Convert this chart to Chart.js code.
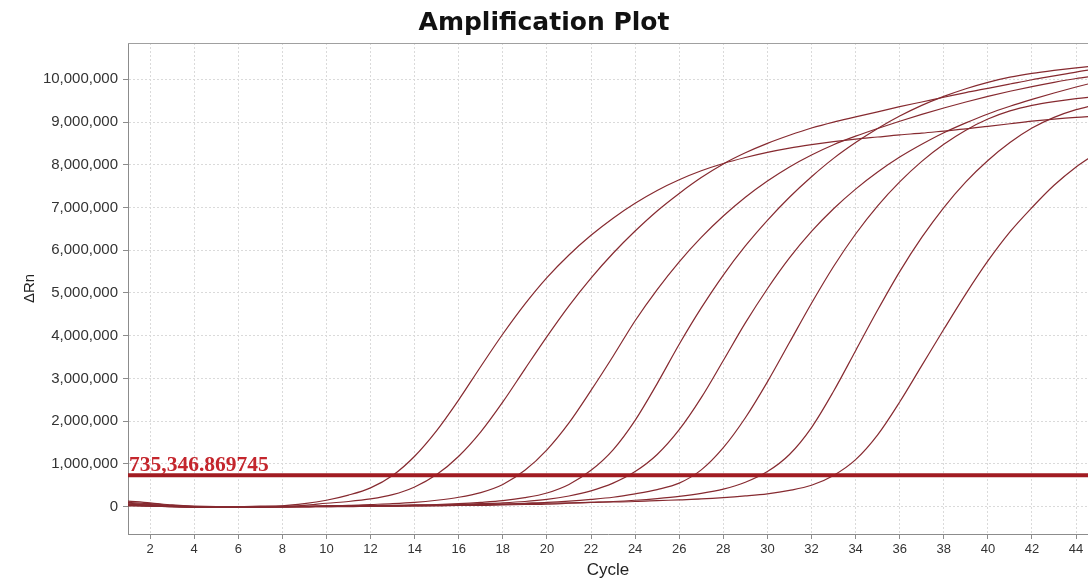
<!DOCTYPE html>
<html>
<head>
<meta charset="utf-8">
<title>Amplification Plot</title>
<script src="https://cdn.jsdelivr.net/npm/chart.js@4.4.1/dist/chart.umd.min.js"></script>
<style>
  html, body { margin: 0; padding: 0; background: #fff; overflow: hidden; }
</style>
</head>
<body>
<canvas id="ampChart" width="1088" height="583"></canvas>
<script>
// Cycle numbers and axis ticks
const cycles = [1, 2, 3, 4, 5, 6, 7, 8, 9, 10, 11, 12, 13, 14, 15, 16, 17, 18, 19, 20, 21, 22, 23,
  24, 25, 26, 27, 28, 29, 30, 31, 32, 33, 34, 35, 36, 37, 38, 39, 40, 41, 42, 43, 44, 45];
const xTicks = [2, 4, 6, 8, 10, 12, 14, 16, 18, 20, 22, 24, 26, 28, 30, 32, 34, 36, 38, 40, 42, 44];
const yTicks = [0, 1000000, 2000000, 3000000, 4000000, 5000000, 6000000, 7000000, 8000000, 9000000, 10000000];
const threshold = 735346.869745;

// Delta Rn per well, in millions
const well1 = [0.13, 0.09, 0.04, 0.01, 0.00, 0.00, 0.01, 0.02, 0.07, 0.15, 0.27, 0.44, 0.73, 1.18, 1.78,
  2.50, 3.28, 4.04, 4.74, 5.36, 5.89, 6.35, 6.75, 7.10, 7.40, 7.65, 7.86, 8.03, 8.17, 8.29,
  8.39, 8.47, 8.54, 8.60, 8.65, 8.70, 8.74, 8.79, 8.84, 8.90, 8.96, 9.02, 9.07, 9.11, 9.14];
const well2 = [0.10, 0.07, 0.03, 0.00, -0.01, 0.00, 0.00, 0.01, 0.03, 0.08, 0.12, 0.18, 0.28, 0.46, 0.75,
  1.18, 1.75, 2.45, 3.22, 3.98, 4.70, 5.35, 5.93, 6.45, 6.92, 7.33, 7.70, 8.02, 8.28, 8.50,
  8.69, 8.86, 9.00, 9.12, 9.24, 9.36, 9.47, 9.58, 9.69, 9.79, 9.89, 9.99, 10.08, 10.17, 10.25];
const well3 = [0.08, 0.05, 0.02, 0.00, -0.01, -0.01, 0.00, 0.00, 0.01, 0.02, 0.03, 0.05, 0.07, 0.10, 0.15,
  0.22, 0.33, 0.52, 0.85, 1.33, 1.96, 2.72, 3.52, 4.35, 5.08, 5.73, 6.30, 6.80, 7.24, 7.62,
  7.95, 8.23, 8.47, 8.67, 8.85, 9.02, 9.18, 9.33, 9.47, 9.60, 9.72, 9.83, 9.93, 10.02, 10.09];
const well4 = [0.06, 0.04, 0.01, -0.01, -0.01, -0.01, 0.00, 0.00, 0.00, 0.01, 0.01, 0.02, 0.03, 0.04, 0.05,
  0.07, 0.10, 0.14, 0.21, 0.32, 0.52, 0.85, 1.33, 2.02, 2.88, 3.80, 4.65, 5.42, 6.10, 6.70,
  7.24, 7.72, 8.15, 8.52, 8.85, 9.14, 9.39, 9.60, 9.78, 9.93, 10.05, 10.14, 10.21, 10.27, 10.32];
const well5 = [0.05, 0.03, 0.01, 0.00, -0.01, -0.01, -0.01, 0.00, 0.00, 0.01, 0.01, 0.02, 0.02, 0.03, 0.04,
  0.05, 0.07, 0.09, 0.12, 0.17, 0.25, 0.37, 0.55, 0.82, 1.22, 1.80, 2.55, 3.42, 4.30, 5.10,
  5.82, 6.44, 6.97, 7.43, 7.83, 8.18, 8.48, 8.75, 8.98, 9.19, 9.37, 9.53, 9.68, 9.82, 9.95];
const well6 = [0.04, 0.02, 0.00, -0.01, -0.01, -0.01, -0.01, 0.00, 0.00, 0.00, 0.01, 0.01, 0.02, 0.02, 0.03,
  0.04, 0.05, 0.06, 0.08, 0.10, 0.13, 0.17, 0.22, 0.30, 0.40, 0.55, 0.86, 1.38, 2.08, 2.92,
  3.84, 4.76, 5.62, 6.38, 7.04, 7.60, 8.08, 8.48, 8.81, 9.07, 9.26, 9.39, 9.48, 9.55, 9.60];
const well7 = [0.03, 0.01, 0.00, -0.01, -0.02, -0.02, -0.01, -0.01, 0.00, 0.00, 0.00, 0.01, 0.01, 0.02, 0.02,
  0.03, 0.03, 0.04, 0.05, 0.06, 0.08, 0.10, 0.12, 0.15, 0.19, 0.24, 0.31, 0.41, 0.57, 0.82,
  1.22, 1.85, 2.70, 3.65, 4.60, 5.50, 6.30, 7.00, 7.60, 8.10, 8.52, 8.86, 9.11, 9.29, 9.42];
const well8 = [0.02, 0.01, 0.00, -0.01, -0.01, -0.01, -0.01, 0.00, 0.00, 0.01, 0.01, 0.02, 0.02, 0.03, 0.03,
  0.04, 0.05, 0.06, 0.07, 0.08, 0.09, 0.10, 0.11, 0.12, 0.14, 0.16, 0.18, 0.21, 0.25, 0.30,
  0.38, 0.50, 0.73, 1.10, 1.68, 2.45, 3.30, 4.15, 4.98, 5.75, 6.43, 7.00, 7.52, 7.95, 8.30];

const wells = [well1, well2, well3, well4, well5, well6, well7, well8];

const CURVE_COLOR = '#862a30';
const THRESH_COLOR = '#a11c22';

const toPoints = vals => vals.map((v, i) => ({ x: cycles[i], y: v * 1e6 }));

// threshold first so it sits on top of the curves
const datasets = [{
  label: 'Threshold',
  data: cycles.map(c => ({ x: c, y: threshold })),
  borderColor: THRESH_COLOR,
  borderWidth: 4,
  pointRadius: 0
}].concat(wells.map((w, i) => ({
  label: 'Well ' + (i + 1),
  data: toPoints(w),
  borderColor: CURVE_COLOR,
  borderWidth: 1.2,
  pointRadius: 0,
  cubicInterpolationMode: 'monotone'
})));

// frame top edge + threshold value text
const framePlugin = {
  id: 'frame',
  afterDatasetsDraw(chart) {
    const { ctx, chartArea: a, scales } = chart;
    ctx.save();
    ctx.strokeStyle = '#a0a0a0';
    ctx.lineWidth = 1;
    ctx.beginPath();
    ctx.moveTo(a.left, a.top + 0.5);
    ctx.lineTo(a.right, a.top + 0.5);
    ctx.stroke();

    const y = scales.y.getPixelForValue(threshold);
    ctx.font = 'bold 21.5px "Liberation Serif", "Times New Roman", serif';
    ctx.fillStyle = '#c4262d';
    ctx.textBaseline = 'alphabetic';
    ctx.fillText(threshold.toLocaleString('en-US', { maximumFractionDigits: 6 }), a.left + 1, y - 4);
    ctx.restore();
  }
};

new Chart(document.getElementById('ampChart'), {
  type: 'line',
  data: { datasets },
  plugins: [framePlugin],
  options: {
    responsive: false,
    animation: false,
    devicePixelRatio: 1,
    layout: { padding: 0 },
    plugins: {
      legend: { display: false },
      tooltip: { enabled: false },
      title: {
        display: true,
        text: 'Amplification Plot',
        color: '#111',
        font: { family: '"DejaVu Sans", Verdana, sans-serif', size: 25, weight: 'bold' },
        padding: { top: 8, bottom: 5 }
      }
    },
    scales: {
      x: {
        type: 'linear',
        min: 1,
        max: 44.54,
        afterBuildTicks: s => { s.ticks = xTicks.map(v => ({ value: v })); },
        afterFit: s => { s.height = 49; },
        ticks: {
          color: '#333',
          font: { family: '"Liberation Sans", Arial, sans-serif', size: 13 },
          padding: 3,
          maxRotation: 0
        },
        grid: { color: '#dadada', tickLength: 5, tickColor: '#8c8c8c' },
        border: { color: '#8c8c8c', dash: [2, 2] },
        title: {
          display: true,
          text: 'Cycle',
          color: '#222',
          font: { family: '"Liberation Sans", Arial, sans-serif', size: 17 },
          padding: { top: 0, bottom: 2 }
        }
      },
      y: {
        type: 'linear',
        min: -640000,
        max: 10850000,
        afterBuildTicks: s => { s.ticks = yTicks.map(v => ({ value: v })); },
        afterFit: s => { s.width = 128; },
        ticks: {
          color: '#333',
          font: { family: '"Liberation Sans", Arial, sans-serif', size: 15 },
          padding: 5,
          callback: v => v.toLocaleString('en-US')
        },
        grid: { color: '#dadada', tickLength: 5, tickColor: '#8c8c8c' },
        border: { color: '#8c8c8c', dash: [2, 2] },
        title: {
          display: true,
          text: 'ΔRn',
          color: '#222',
          font: { family: '"Liberation Sans", Arial, sans-serif', size: 15 },
          padding: { top: 21, bottom: 0 }
        }
      }
    }
  }
});
</script>
</body>
</html>
